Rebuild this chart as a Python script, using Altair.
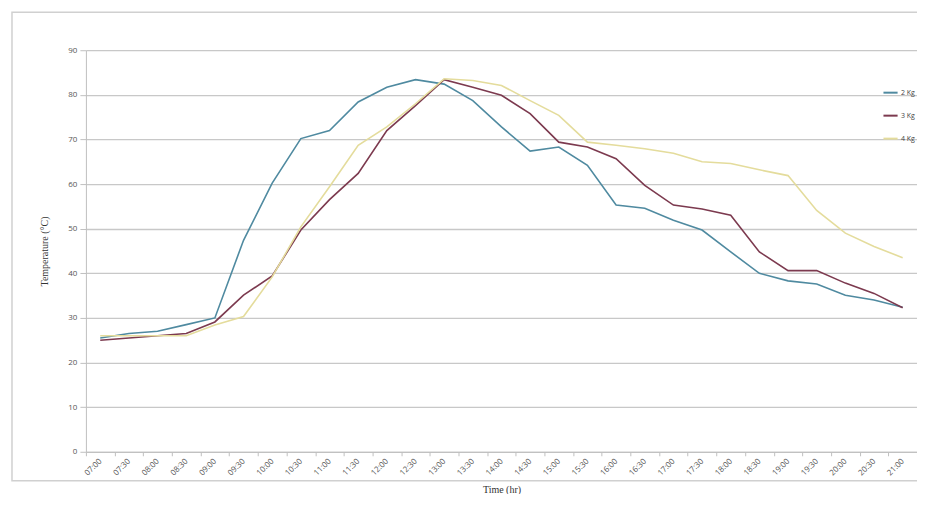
import altair as alt
import pandas as pd

times = ["07:00", "07:30", "08:00", "08:30", "09:00", "09:30", "10:00", "10:30",
         "11:00", "11:30", "12:00", "12:30", "13:00", "13:30", "14:00", "14:30",
         "15:00", "15:30", "16:00", "16:30", "17:00", "17:30", "18:00", "18:30",
         "19:00", "19:30", "20:00", "20:30", "21:00"]

kg2 = [25.5, 26.5, 27, 28.5, 30, 47.4, 60.2, 70.2, 72, 78.4, 81.7, 83.4, 82.4, 78.7,
       72.8, 67.4, 68.3, 64.2, 55.3, 54.6, 51.9, 49.7, 44.8, 40, 38.3, 37.6, 35.1, 34, 32.4]
kg3 = [25, 25.5, 26, 26.5, 29.1, 35.1, 39.4, 49.7, 56.5, 62.4, 72, 77.6, 83.4, 81.7,
       79.9, 75.8, 69.4, 68.3, 65.7, 59.7, 55.3, 54.4, 53, 44.8, 40.6, 40.6, 37.8, 35.5, 32.3]
kg4 = [26, 26, 26, 26, 28.4, 30.3, 39.2, 50.4, 59.4, 68.7, 72.8, 78, 83.6, 83.2,
       82.1, 78.7, 75.4, 69.4, 68.7, 67.9, 66.9, 65, 64.6, 63.2, 61.9, 54.1, 49, 46, 43.5]

series = ["2 Kg", "3 Kg", "4 Kg"]
colors = ["#4f8aa0", "#7c3a4f", "#e4dc9c"]

rows = []
for name, vals in zip(series, [kg2, kg3, kg4]):
    for t, v in zip(times, vals):
        rows.append({"time": t, "temp": v, "series": name})
df = pd.DataFrame(rows)

lines = alt.Chart(df).mark_line(strokeWidth=1.6).encode(
    x=alt.X("time:N", sort=times, scale=alt.Scale(paddingInner=0, paddingOuter=0),
            axis=alt.Axis(title="Time (hr)", labelAngle=-45, labelAlign="right",
                          labelBaseline="middle", tickBand="extent", labelFontSize=8,
                          labelColor="#555555", tickColor="#c0c0c0", domainColor="#c0c0c0",
                          labelFont="Open Sans", titleFont="Liberation Serif",
                          titleFontSize=10, titleFontWeight="normal", titleColor="#333333",
                          titlePadding=8, grid=False, labelPadding=4, tickSize=4)),
    y=alt.Y("temp:Q", scale=alt.Scale(domain=[0, 90]),
            axis=alt.Axis(title="Temperature (°C)", values=list(range(0, 91, 10)),
                          labelFontSize=8, labelColor="#555555", labelFont="Open Sans",
                          titleFont="Liberation Serif", titleFontSize=10,
                          titleFontWeight="normal", titleColor="#333333", titlePadding=18,
                          gridColor="#c8c8c8", gridWidth=1.3, tickColor="#c0c0c0",
                          domainColor="#c0c0c0", tickSize=6, labelPadding=3)),
    color=alt.Color("series:N", scale=alt.Scale(domain=series, range=colors),
                    legend=alt.Legend(title=None, orient="none", legendX=797, legendY=34,
                                      symbolType="stroke", symbolSize=200,
                                      symbolStrokeWidth=2, labelFontSize=7,
                                      labelFont="Open Sans", labelColor="#444444",
                                      rowPadding=10, labelOffset=2, padding=0)),
)

frame = alt.Chart(pd.DataFrame({"k": [0]})).mark_rect(
    fill=None, stroke="#d0d0d0", strokeWidth=1.5
).encode(x=alt.value(-74), x2=alt.value(860), y=alt.value(-38), y2=alt.value(431))

chart = alt.layer(frame, lines).properties(
    width=832, height=402,
    autosize=alt.AutoSizeParams(type="none"),
    padding={"left": 78, "top": 42, "right": 0, "bottom": 42},
).configure_view(stroke=None)

chart.save("out.html", embed_options={"renderer": "svg", "actions": False})
